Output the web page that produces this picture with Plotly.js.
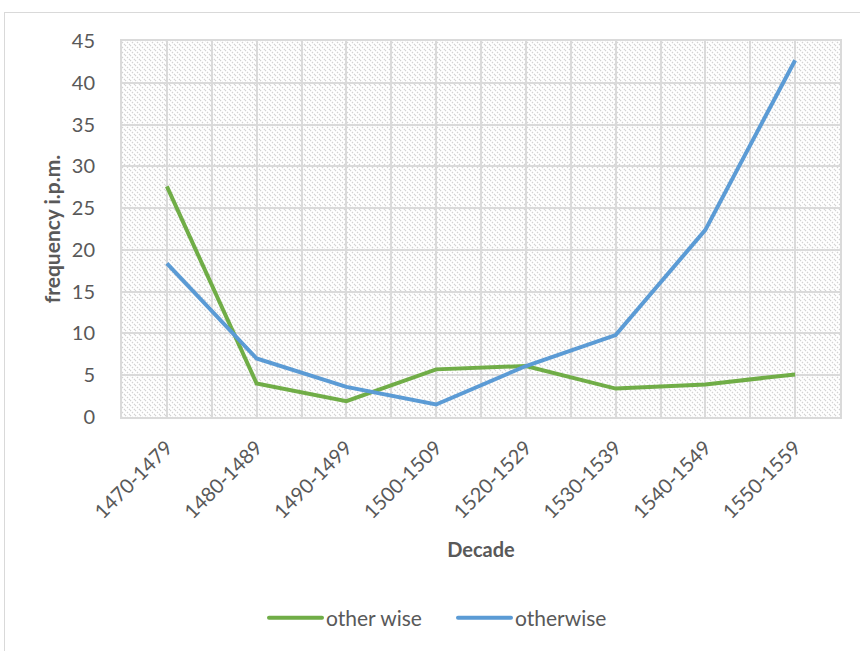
<!DOCTYPE html>
<html>
<head>
<meta charset="utf-8">
<script src="https://cdn.plot.ly/plotly-3.0.1.min.js"></script>
<style>
  html, body { margin: 0; padding: 0; background: #fff; }
  #wrap { position: relative; width: 860px; height: 651px; overflow: hidden; }
  #chart { width: 860px; height: 651px; }
  #frame {
    position: absolute; left: 4px; top: 12px; width: 900px; height: 700px;
    border-left: 1px solid #d9d9d9; border-top: 1px solid #d9d9d9;
    pointer-events: none;
  }
</style>
</head>
<body>
<div id="wrap">
  <div id="chart"></div>
  <div id="frame"></div>
</div>
<script>
// Decades on the category axis
const decades = ['1470-1479', '1480-1489', '1490-1499', '1500-1509',
                 '1520-1529', '1530-1539', '1540-1549', '1550-1559'];

// Frequency per million words for each spelling
const otherWiseSplit = [27.6, 4.0, 1.9, 5.7, 6.1, 3.4, 3.9, 5.1];
const otherwiseJoined = [18.4, 7.0, 3.6, 1.5, 6.1, 9.8, 22.4, 42.7];

// Value-axis ticks
const yTickValues = [0, 5, 10, 15, 20, 25, 30, 35, 40, 45];

// Category slots: one grid line at every centre and every boundary
const xIndex = decades.map((d, i) => i);
const gridVals = [];
const gridText = [];
decades.forEach((d, i) => {
  gridVals.push(i - 0.5); gridText.push('');
  gridVals.push(i); gridText.push(d);
});
gridVals.push(decades.length - 0.5); gridText.push('');

const fontFamily = 'Lato, "Open Sans", sans-serif';
const textColor = '#595959';
const gridColor = '#dadada';
const plotFill = '#fefefe';

const data = [
  {
    x: xIndex, y: otherWiseSplit, name: 'other wise',
    type: 'scatter', mode: 'lines',
    line: { color: '#70ad47', width: 4, shape: 'linear' }
  },
  {
    x: xIndex, y: otherwiseJoined, name: 'otherwise',
    type: 'scatter', mode: 'lines',
    line: { color: '#5b9bd5', width: 4, shape: 'linear' }
  }
];

const layout = {
  width: 860, height: 651,
  margin: { l: 122, r: 20, t: 41, b: 234 },
  paper_bgcolor: '#ffffff',
  plot_bgcolor: plotFill,
  font: { family: fontFamily, color: textColor, size: 20 },
  showlegend: true,
  legend: {
    orientation: 'h', x: 0.461, xanchor: 'center', y: -0.535, yanchor: 'middle',
    bgcolor: 'rgba(0,0,0,0)',
    font: { family: fontFamily, color: textColor, size: 21 },
    entrywidthmode: 'pixels', entrywidth: 144,
    traceorder: 'normal'
  },
  xaxis: {
    range: [-0.5, decades.length - 0.5],
    tickmode: 'array', tickvals: gridVals, ticktext: gridText,
    tickangle: -45,
    tickfont: { family: fontFamily, color: textColor, size: 20 },
    showgrid: true, gridcolor: gridColor, gridwidth: 2,
    showline: true, linecolor: gridColor, linewidth: 2, mirror: true,
    zeroline: false, ticks: '', ticklabelstandoff: 9, fixedrange: true,
    title: { text: 'Decade', font: { family: fontFamily, color: textColor, size: 20, weight: 'bold' }, standoff: 21 }
  },
  yaxis: {
    range: [0, 45],
    tickmode: 'array', tickvals: yTickValues,
    tickfont: { family: fontFamily, color: textColor, size: 20 },
    showgrid: true, gridcolor: gridColor, gridwidth: 2,
    showline: true, linecolor: gridColor, linewidth: 2, mirror: true,
    zeroline: false, ticks: '', ticklabelstandoff: 21, fixedrange: true,
    title: { text: 'frequency i.p.m.', font: { family: fontFamily, color: textColor, size: 21, weight: 'bold' }, standoff: 5 }
  }
};

Plotly.newPlot('chart', data, layout, { staticPlot: true, displayModeBar: false }).then(gd => {
  const ns = 'http://www.w3.org/2000/svg';
  const svg = gd.querySelector('.main-svg');

  // Dotted downward-diagonal hatch fill for the plotting area
  let defs = svg.querySelector('defs');
  if (!defs) { defs = document.createElementNS(ns, 'defs'); svg.insertBefore(defs, svg.firstChild); }
  const pat = document.createElementNS(ns, 'pattern');
  pat.setAttribute('id', 'diagHatch');
  pat.setAttribute('patternUnits', 'userSpaceOnUse');
  pat.setAttribute('width', '5');
  pat.setAttribute('height', '5');
  const base = document.createElementNS(ns, 'rect');
  base.setAttribute('width', '5'); base.setAttribute('height', '5'); base.setAttribute('fill', '#ffffff');
  pat.appendChild(base);
  const stripe = document.createElementNS(ns, 'path');
  stripe.setAttribute('d', 'M0,0L5,5M-1,4L1,6M4,-1L6,1');
  stripe.setAttribute('stroke', '#d3d3d3');
  stripe.setAttribute('stroke-width', '1.3');
  stripe.setAttribute('stroke-dasharray', '1.41,1.41');
  pat.appendChild(stripe);
  defs.appendChild(pat);
  gd.querySelectorAll('svg *').forEach(el => {
    if (el.style && el.style.fill === 'rgb(254, 254, 254)') el.style.fill = 'url(#diagHatch)';
  });

  // Longer, round-capped legend swatches with the label right after them
  gd.querySelectorAll('.legend .traces').forEach(tr => {
    tr.querySelectorAll('.legendlines path').forEach(p => {
      p.setAttribute('d', 'M5,0h53');
      p.style.strokeLinecap = 'round';
    });
    const txt = tr.querySelector('text.legendtext');
    if (txt) txt.setAttribute('x', '62');
  });
});
</script>
</body>
</html>
